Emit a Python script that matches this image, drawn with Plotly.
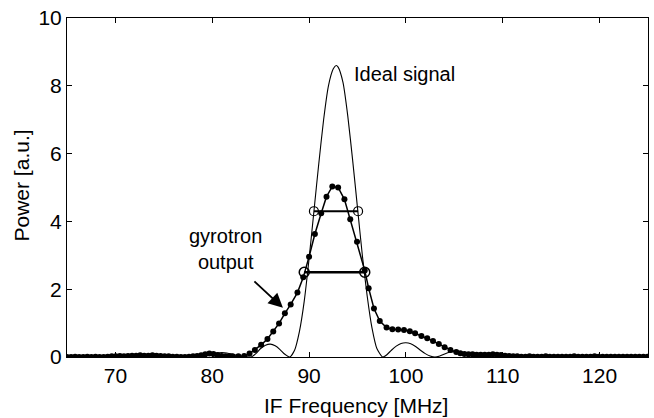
import plotly.graph_objects as go

# ---------------- data ----------------
ideal_freq = [65.0, 78.5, 79.0, 79.5, 80.0, 80.5, 81.0, 81.5, 82.0, 82.5, 83.0, 83.5, 84.0,
              84.5, 85.0, 85.5, 86.0, 86.5, 87.0, 87.5, 88.0, 88.5, 89.0, 89.5, 90.0,
              90.5, 91.0, 91.5, 92.0, 92.5, 92.8, 93.0, 93.5, 94.0, 94.5, 95.0, 95.5,
              96.0, 96.5, 97.0, 97.6, 98.0, 98.5, 99.0, 99.5, 100.0, 100.5, 101.0,
              101.5, 102.0, 102.5, 103.0, 103.5, 104.0, 104.5, 105.0, 105.5, 106.0,
              106.5, 107.0, 107.5, 125.0]
ideal_power = [0.0, 0.0, 0.02, 0.05, 0.09, 0.12, 0.13, 0.12, 0.09, 0.05, 0.02, 0.01, 0.0,
               0.1, 0.25, 0.35, 0.38, 0.33, 0.22, 0.08, 0.0, 0.2, 0.75, 1.65, 2.9,
               4.3, 5.7, 7.0, 8.0, 8.5, 8.6, 8.55, 8.1, 7.1, 5.8, 4.4, 3.0,
               1.8, 0.85, 0.25, 0.0, 0.06, 0.2, 0.32, 0.4, 0.42, 0.39, 0.31,
               0.2, 0.1, 0.03, 0.0, 0.03, 0.09, 0.14, 0.16, 0.15, 0.11,
               0.06, 0.02, 0.0, 0.0]

gyro_freq = [65.0, 65.42, 65.84, 66.26, 66.68, 67.1, 67.52, 67.94, 68.36, 68.78, 69.2,
             69.62, 70.04, 70.46, 70.88, 71.3, 71.72, 72.14, 72.56, 72.98,
             73.4, 73.82, 74.24, 74.66, 75.08, 75.5, 75.92, 76.34, 76.76, 77.18,
             77.6, 78.02, 78.44, 78.86, 79.28, 79.7, 80.12, 80.54, 80.96, 81.38,
             81.75, 82.1, 82.7, 83.3, 83.85, 84.4, 85.05, 85.7, 86.3, 86.9, 87.5,
             88.1, 88.8, 89.4, 90.0, 90.6, 91.25, 91.8, 92.4, 93.0, 93.65, 94.25,
             94.95, 95.75, 96.15, 96.7, 97.3, 98.0, 98.6, 99.2, 99.8, 100.4, 100.95,
             101.6, 102.2, 102.8, 103.4, 104.0, 104.6, 105.2, 105.62, 106.04, 106.46,
             106.88, 107.3, 107.72, 108.14, 108.56, 108.98, 109.4, 109.82, 110.24,
             110.66, 111.08, 111.5, 111.92, 112.34, 112.76, 113.18, 113.6, 114.02,
             114.44, 114.86, 115.28, 115.7, 116.12, 116.54, 116.96, 117.38, 117.8,
             118.22, 118.64, 119.06, 119.48, 119.9, 120.32, 120.74, 121.16, 121.58,
             122.0, 122.42, 122.84, 123.26, 123.68, 124.1, 124.52, 124.94]
gyro_power = [0.0, 0.0, 0.01, 0.0, 0.0, 0.01, 0.0, 0.01, 0.0, 0.0, 0.01,
              0.02, 0.02, 0.03, 0.02, 0.03, 0.04, 0.04, 0.05, 0.04,
              0.04, 0.05, 0.04, 0.03, 0.02, 0.02, 0.01, 0.01, 0.0, 0.0,
              0.01, 0.02, 0.03, 0.05, 0.08, 0.1, 0.09, 0.06, 0.03, 0.02,
              0.02, 0.02, 0.02, 0.03, 0.1, 0.21, 0.36, 0.53, 0.75, 0.99, 1.29,
              1.55, 1.9, 2.35, 2.96, 3.63, 4.24, 4.73, 5.03, 5.0, 4.65, 4.06,
              3.4, 2.55, 2.03, 1.43, 1.06, 0.87, 0.82, 0.81, 0.8, 0.76, 0.7,
              0.62, 0.55, 0.47, 0.38, 0.29, 0.21, 0.15, 0.11, 0.09, 0.08,
              0.08, 0.07, 0.07, 0.07, 0.07, 0.08, 0.07, 0.06, 0.04,
              0.03, 0.02, 0.02, 0.01, 0.01, 0.02, 0.01, 0.01, 0.01,
              0.02, 0.01, 0.01, 0.01, 0.01, 0.01, 0.01, 0.02, 0.01,
              0.01, 0.01, 0.01, 0.02, 0.01, 0.01, 0.01, 0.01, 0.01,
              0.01, 0.01, 0.01, 0.01, 0.01, 0.01, 0.01, 0.01]

# half-maximum markers: ideal (upper) and gyrotron output (lower)
fwhm_ideal_freq = [90.5, 95.06]
fwhm_ideal_power = [4.3, 4.3]
fwhm_gyro_freq = [89.5, 95.75]
fwhm_gyro_power = [2.5, 2.5]

x_ticks = [70, 80, 90, 100, 110, 120]
y_ticks = [0, 2, 4, 6, 8, 10]

FONT = "Liberation Sans, Arial, Helvetica, sans-serif"

fig = go.Figure()

fig.add_trace(go.Scatter(x=ideal_freq, y=ideal_power, mode="lines",
                         line=dict(color="black", width=1.1, shape="spline", smoothing=0.6),
                         hoverinfo="skip"))
fig.add_trace(go.Scatter(x=gyro_freq, y=gyro_power, mode="lines+markers",
                         line=dict(color="black", width=1.5),
                         marker=dict(color="black", size=6, symbol="circle"),
                         hoverinfo="skip"))
fig.add_trace(go.Scatter(x=fwhm_ideal_freq, y=fwhm_ideal_power, mode="lines+markers",
                         line=dict(color="black", width=1.8),
                         marker=dict(symbol="circle-open", size=9, color="black",
                                     line=dict(width=1.2, color="black")),
                         hoverinfo="skip"))
fig.add_trace(go.Scatter(x=fwhm_gyro_freq, y=fwhm_gyro_power, mode="lines+markers",
                         line=dict(color="black", width=2.4),
                         marker=dict(symbol="circle-open", size=10, color="black",
                                     line=dict(width=1.5, color="black")),
                         hoverinfo="skip"))

fig.add_annotation(x=94.4, y=8.35, xref="x", yref="y", text="Ideal signal",
                   showarrow=False, xanchor="left", yanchor="middle",
                   font=dict(family=FONT, size=20, color="black"))
fig.add_annotation(x=81.4, y=3.2, xref="x", yref="y", text="gyrotron<br>output",
                   showarrow=False, xanchor="center", yanchor="middle", align="center",
                   font=dict(family=FONT, size=20, color="black"))
fig.add_annotation(x=87.3, y=1.45, xref="x", yref="y", ax=84.2, ay=2.27,
                   axref="x", ayref="y", text="", showarrow=True,
                   arrowhead=2, arrowsize=1.6, arrowwidth=1.8, arrowcolor="black")

# axis titles placed as paper annotations
fig.add_annotation(x=0.497, y=-0.142, xref="paper", yref="paper",
                   text="IF Frequency [MHz]", showarrow=False,
                   xanchor="center", yanchor="middle",
                   font=dict(family=FONT, size=21, color="black"))
fig.add_annotation(x=-0.078, y=0.505, xref="paper", yref="paper",
                   text="Power [a.u.]", showarrow=False, textangle=-90,
                   xanchor="center", yanchor="middle",
                   font=dict(family=FONT, size=21, color="black"))

axis_common = dict(showgrid=False, zeroline=False, showline=True, linecolor="black",
                   linewidth=1, mirror="ticks", ticks="inside", ticklen=5,
                   tickcolor="black", tickwidth=1, automargin=False,
                   tickfont=dict(family=FONT, size=21, color="black"))

fig.update_xaxes(range=[65, 125], tickvals=x_ticks, **axis_common)
fig.update_yaxes(range=[0, 10], tickvals=y_ticks, **axis_common)

fig.update_layout(width=654, height=418, showlegend=False,
                  margin=dict(l=67, r=6, t=18, b=61),
                  paper_bgcolor="white", plot_bgcolor="white")

fig.write_html("out.html",
               config={"displayModeBar": False, "staticPlot": True},
               post_script="document.body.style.margin='0';document.body.style.overflow='hidden';")
